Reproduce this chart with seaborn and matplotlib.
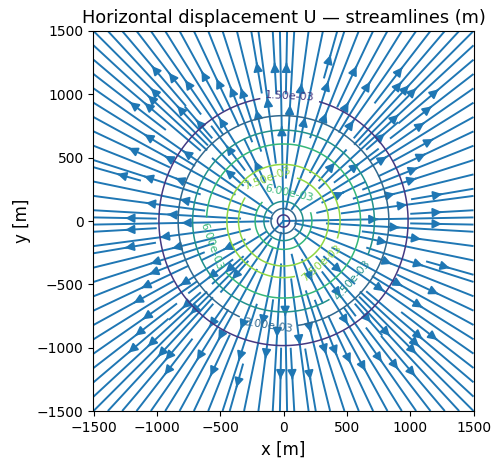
import numpy as np
import matplotlib
matplotlib.use("Agg")
import matplotlib.pyplot as plt
import seaborn as sns

# Radial displacement model: peak horizontal displacement and the radius where it occurs
peak_displacement = 7.6e-3   # m
peak_radius = 400.0          # m

# Map extent and contour levels of U (m)
extent = [-1500, 1500]
contour_levels = [1.5e-3, 3.0e-3, 4.5e-3, 6.0e-3, 7.5e-3]
level_norm_range = [0.0, 9.0e-3]
tick_values = [-1500, -1000, -500, 0, 500, 1000, 1500]

sns.set_theme(style="ticks", rc={
    "font.size": 10,
    "axes.titlesize": 12.8,
    "axes.labelsize": 12,
    "xtick.labelsize": 10,
    "ytick.labelsize": 10,
    "axes.edgecolor": "black",
    "text.color": "black",
    "axes.labelcolor": "black",
    "xtick.color": "black",
    "ytick.color": "black",
    "axes.linewidth": 0.8,
    "xtick.major.width": 0.8,
    "ytick.major.width": 0.8,
    "xtick.major.size": 3.5,
    "ytick.major.size": 3.5,
})
plt.rcParams["font.family"] = ["DejaVu Sans"]

x = np.linspace(extent[0], extent[1], 301)
y = np.linspace(extent[0], extent[1], 301)
X, Y = np.meshgrid(x, y)
R = np.hypot(X, Y)
s = R / peak_radius
U = peak_displacement * s * np.exp(0.5 * (1.0 - s ** 2))
with np.errstate(invalid="ignore", divide="ignore"):
    ux = np.where(R > 0, U * X / R, 0.0)
    uy = np.where(R > 0, U * Y / R, 0.0)

fig = plt.figure(figsize=(4.92, 4.61), dpi=100)
ax = fig.add_axes([93 / 492, 50 / 461, 381 / 492, 380 / 461])

stream_color = sns.color_palette("tab10")[0]
ax.streamplot(x, y, ux, uy, color=stream_color, density=1.8,
              linewidth=1.4, arrowsize=1.3)

cmap = sns.color_palette("viridis", as_cmap=True)
cs = ax.contour(X, Y, U, levels=contour_levels, cmap=cmap,
                vmin=level_norm_range[0], vmax=level_norm_range[1],
                linewidths=1.1)
label_spots = [(50, 975), (-120, -815), (547, -472), (-555, -197),
               (51, 240), (-130, 346), (300, -335)]
ax.clabel(cs, fmt="%.2e", fontsize=8, inline=True, manual=label_spots)

ax.set_xlim(extent)
ax.set_ylim(extent)
ax.set_aspect("equal")
ax.set_xticks(tick_values)
ax.set_yticks(tick_values)
ax.set_xlabel("x [m]")
ax.set_ylabel("y [m]")
ax.set_title("Horizontal displacement U — streamlines (m)")

fig.savefig("out.png", dpi=100)
